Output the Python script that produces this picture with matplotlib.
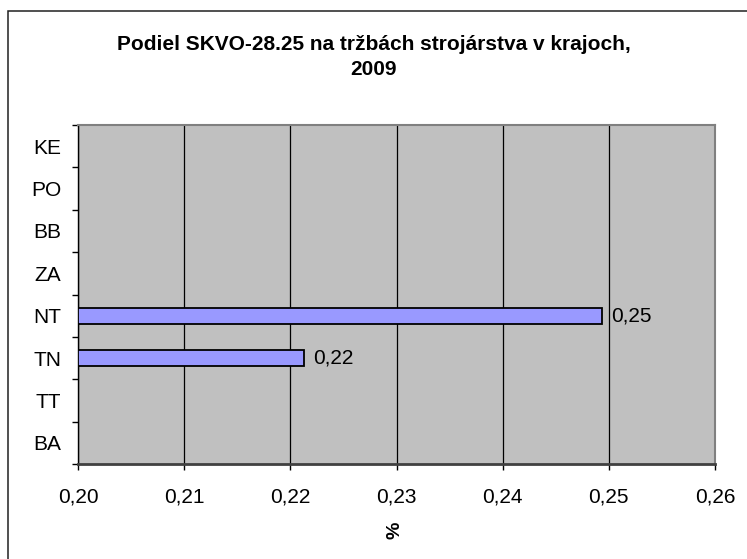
import numpy as np
import matplotlib.pyplot as plt
from matplotlib.patches import Rectangle

plt.rcParams['font.family'] = ['Liberation Sans', 'DejaVu Sans']

# Dáta
kraje = ["BA", "TT", "TN", "NT", "ZA", "BB", "PO", "KE"]
podiel = [np.nan, np.nan, 0.2213, 0.2494, np.nan, np.nan, np.nan, np.nan]
x_ticks = [0.20, 0.21, 0.22, 0.23, 0.24, 0.25, 0.26]
x_labels = ["0,20", "0,21", "0,22", "0,23", "0,24", "0,25", "0,26"]
x_min = 0.20

fig = plt.figure(figsize=(7.47, 5.59), dpi=100)

# ramček okolo grafu
fig.patches.append(Rectangle((8 / 747, -0.05), 1.2, 1 - 11 / 559 + 0.05,
                             transform=fig.transFigure, fill=False,
                             edgecolor='#202020', linewidth=1.1))

ax = fig.add_axes([78 / 747, 95 / 559, 637 / 747, 339 / 559])
ax.set_facecolor('#C0C0C0')

y = np.arange(len(kraje))
for i, v in enumerate(podiel):
    if np.isnan(v):
        continue
    ax.barh(y[i], v - x_min, left=x_min, height=0.38, color='#9999FF',
            edgecolor='black', linewidth=1.3, zorder=3)
    ax.text(v + 0.00085, y[i], f"{v:.2f}".replace(".", ","), va='center',
            ha='left', fontsize=15, zorder=4)

ax.set_xlim(0.20, 0.26)
ax.set_ylim(-0.5, len(kraje) - 0.5)
ax.set_xticks(x_ticks)
ax.set_xticklabels(x_labels, fontsize=15)
ax.set_yticks(y)
ax.set_yticklabels(kraje, fontsize=15)
ax.set_yticks(np.arange(len(kraje) + 1) - 0.5, minor=True)
ax.tick_params(axis='y', which='major', length=0, pad=12)
ax.tick_params(axis='y', which='minor', length=4, width=1, color='black', direction='out')
ax.tick_params(axis='x', length=4, width=1, pad=13, direction='out')

ax.grid(True, axis='x', color='black', linewidth=0.9, zorder=1)
ax.set_axisbelow(True)

for s in ['top', 'right']:
    ax.spines[s].set_color('#808080')
    ax.spines[s].set_linewidth(1.5)
ax.spines['bottom'].set_color('#404040')
ax.spines['bottom'].set_linewidth(2)
ax.spines['left'].set_color('black')
ax.spines['left'].set_linewidth(1)

fig.text(395 / 747, 1 - 530 / 559, "%", ha='center', va='center',
         fontsize=14, fontweight='bold', rotation=90)
fig.text(0.5, 1 - 57 / 559, "Podiel SKVO-28.25 na tržbách strojárstva v krajoch,\n2009",
         ha='center', va='center', fontsize=15, fontweight='bold', linespacing=1.4)

fig.savefig("out.png", dpi=100)
